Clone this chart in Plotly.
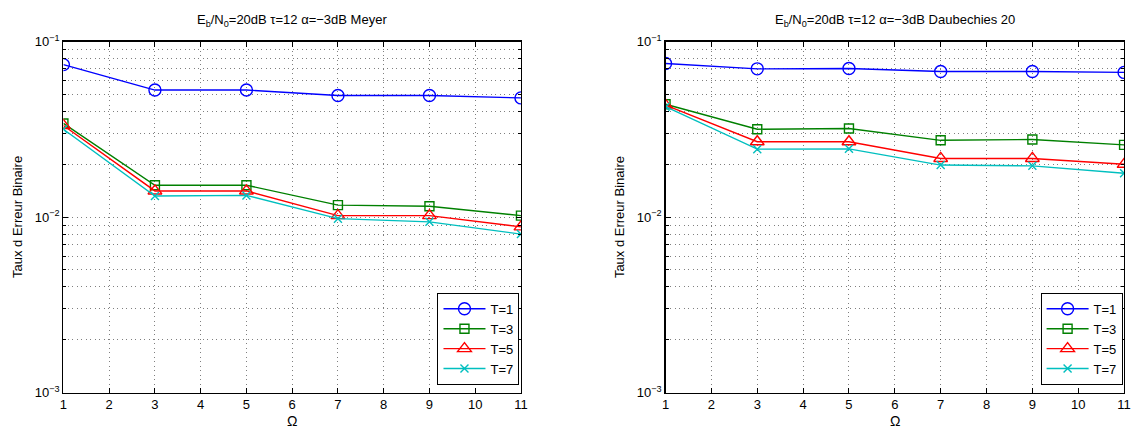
import plotly.graph_objects as go

omega = [1, 3, 5, 7, 9, 11]
series_names = ["T=1", "T=3", "T=5", "T=7"]

meyer_T1 = [0.074, 0.053, 0.053, 0.0493, 0.0493, 0.0478]
meyer_T3 = [0.0342, 0.0152, 0.0152, 0.0117, 0.01153, 0.0102]
meyer_T5 = [0.0333, 0.0141, 0.0141, 0.0102, 0.0102, 0.0088]
meyer_T7 = [0.0317, 0.0132, 0.0133, 0.0098, 0.0094, 0.0080]

daub_T1 = [0.0751, 0.070, 0.0703, 0.0676, 0.0676, 0.0668]
daub_T3 = [0.0440, 0.0317, 0.0320, 0.0274, 0.0277, 0.0258]
daub_T5 = [0.0435, 0.0269, 0.0269, 0.0216, 0.0216, 0.0200]
daub_T7 = [0.0426, 0.0244, 0.0245, 0.0198, 0.0196, 0.0178]

titles = ["E<sub>b</sub>/N<sub>0</sub>=20dB \u03c4=12 \u03b1=\u22123dB Meyer",
          "E<sub>b</sub>/N<sub>0</sub>=20dB \u03c4=12 \u03b1=\u22123dB Daubechies 20"]
x_title = "\u03a9"
y_title = "Taux d Erreur Binaire"

x_ticks = [1, 2, 3, 4, 5, 6, 7, 8, 9, 10, 11]
y_major_vals = [0.001, 0.01, 0.1]
y_major_text = ["10<sup>\u22123</sup>", "10<sup>\u22122</sup>", "10<sup>\u22121</sup>"]
y_minor_vals = [0.002, 0.003, 0.004, 0.005, 0.006, 0.007, 0.008, 0.009,
                0.02, 0.03, 0.04, 0.05, 0.06, 0.07, 0.08, 0.09]

colors = ["#0000FF", "#008000", "#FF0000", "#00BFBF"]
symbols = ["circle-open", "square-open", "triangle-up-open", "x-thin-open"]
sizes = [12, 9, 12, 8]

W, H = 1139, 439
FONT = "Liberation Sans, Arial, Helvetica, sans-serif"

fig = go.Figure()

panels = [
    ([meyer_T1, meyer_T3, meyer_T5, meyer_T7], "x", "y", "legend"),
    ([daub_T1, daub_T3, daub_T5, daub_T7], "x2", "y2", "legend2"),
]
for data, xa, ya, lg in panels:
    for i, vals in enumerate(data):
        fig.add_trace(go.Scatter(
            x=omega, y=vals, name=series_names[i], mode="lines+markers",
            xaxis=xa, yaxis=ya, legend=lg,
            line=dict(color=colors[i], width=1.4),
            marker=dict(symbol=symbols[i], size=sizes[i], color=colors[i],
                        line=dict(color=colors[i], width=1.4)),
        ))

PLOT_TOP, PLOT_BOTTOM = 34, 399
xpix = [[60, 522], [668, 1131]]
ydom = [(H - PLOT_BOTTOM) / H, (H - PLOT_TOP) / H]
xdoms = [[a / W, b / W] for a, b in xpix]

GRID = dict(showgrid=True, gridcolor="rgba(0,0,0,0.5)", griddash="1px,3.5px", gridwidth=1)
axis_common = dict(showline=True, linecolor="black", linewidth=1.3, mirror="allticks",
                   ticks="inside", ticklen=5, tickcolor="black", tickwidth=1,
                   zeroline=False, tickfont=dict(size=13, color="black", family=FONT),
                   **GRID)

for k, suffix in enumerate(["", "2"]):
    fig.layout["xaxis" + suffix] = dict(
        axis_common, domain=xdoms[k], range=[1, 11], tickmode="array", tickvals=x_ticks,
        anchor="y" + suffix)
    fig.layout["yaxis" + suffix] = dict(
        axis_common, domain=ydom, type="log", range=[-3, -1], tickmode="array",
        tickvals=y_major_vals, ticktext=y_major_text, anchor="x" + suffix,
        minor=dict(tickmode="array", tickvals=y_minor_vals, ticks="inside", ticklen=3,
                   tickcolor="black", **GRID))

annotations = []
ycenter = 1 - ((PLOT_TOP + PLOT_BOTTOM) / 2) / H
for k in range(2):
    xc = (xpix[k][0] + xpix[k][1]) / 2 / W
    annotations.append(dict(
        text=titles[k], x=xc, y=1 - 12 / H,
        xref="paper", yref="paper", xanchor="center", yanchor="middle",
        showarrow=False, font=dict(size=13, color="black", family=FONT)))
    annotations.append(dict(
        text=x_title, x=xc, y=1 - 429 / H,
        xref="paper", yref="paper", xanchor="center", yanchor="middle",
        showarrow=False, font=dict(size=14, color="black", family=FONT)))
    annotations.append(dict(
        text=y_title, x=(xpix[k][0] - 47) / W, y=ycenter, textangle=-90,
        xref="paper", yref="paper", xanchor="center", yanchor="middle",
        showarrow=False, font=dict(size=13, color="black", family=FONT)))

legend_common = dict(bordercolor="black", borderwidth=1, bgcolor="white",
                     font=dict(size=13, color="black", family=FONT),
                     xanchor="right", yanchor="bottom", tracegroupgap=0,
                     itemwidth=42)

fig.update_layout(
    width=W, height=H, margin=dict(l=0, r=0, t=0, b=0),
    paper_bgcolor="white", plot_bgcolor="white",
    font=dict(family=FONT, color="black"),
    annotations=annotations,
    legend=dict(legend_common, x=(xpix[0][1] - 1.5) / W, y=(H - 391) / H),
    legend2=dict(legend_common, x=(xpix[1][1] - 1.5) / W, y=(H - 391) / H),
)

fig.write_html("out.html", config={"displayModeBar": False, "staticPlot": True},
               post_script="document.body.style.margin='0';document.body.style.overflow='hidden';")
